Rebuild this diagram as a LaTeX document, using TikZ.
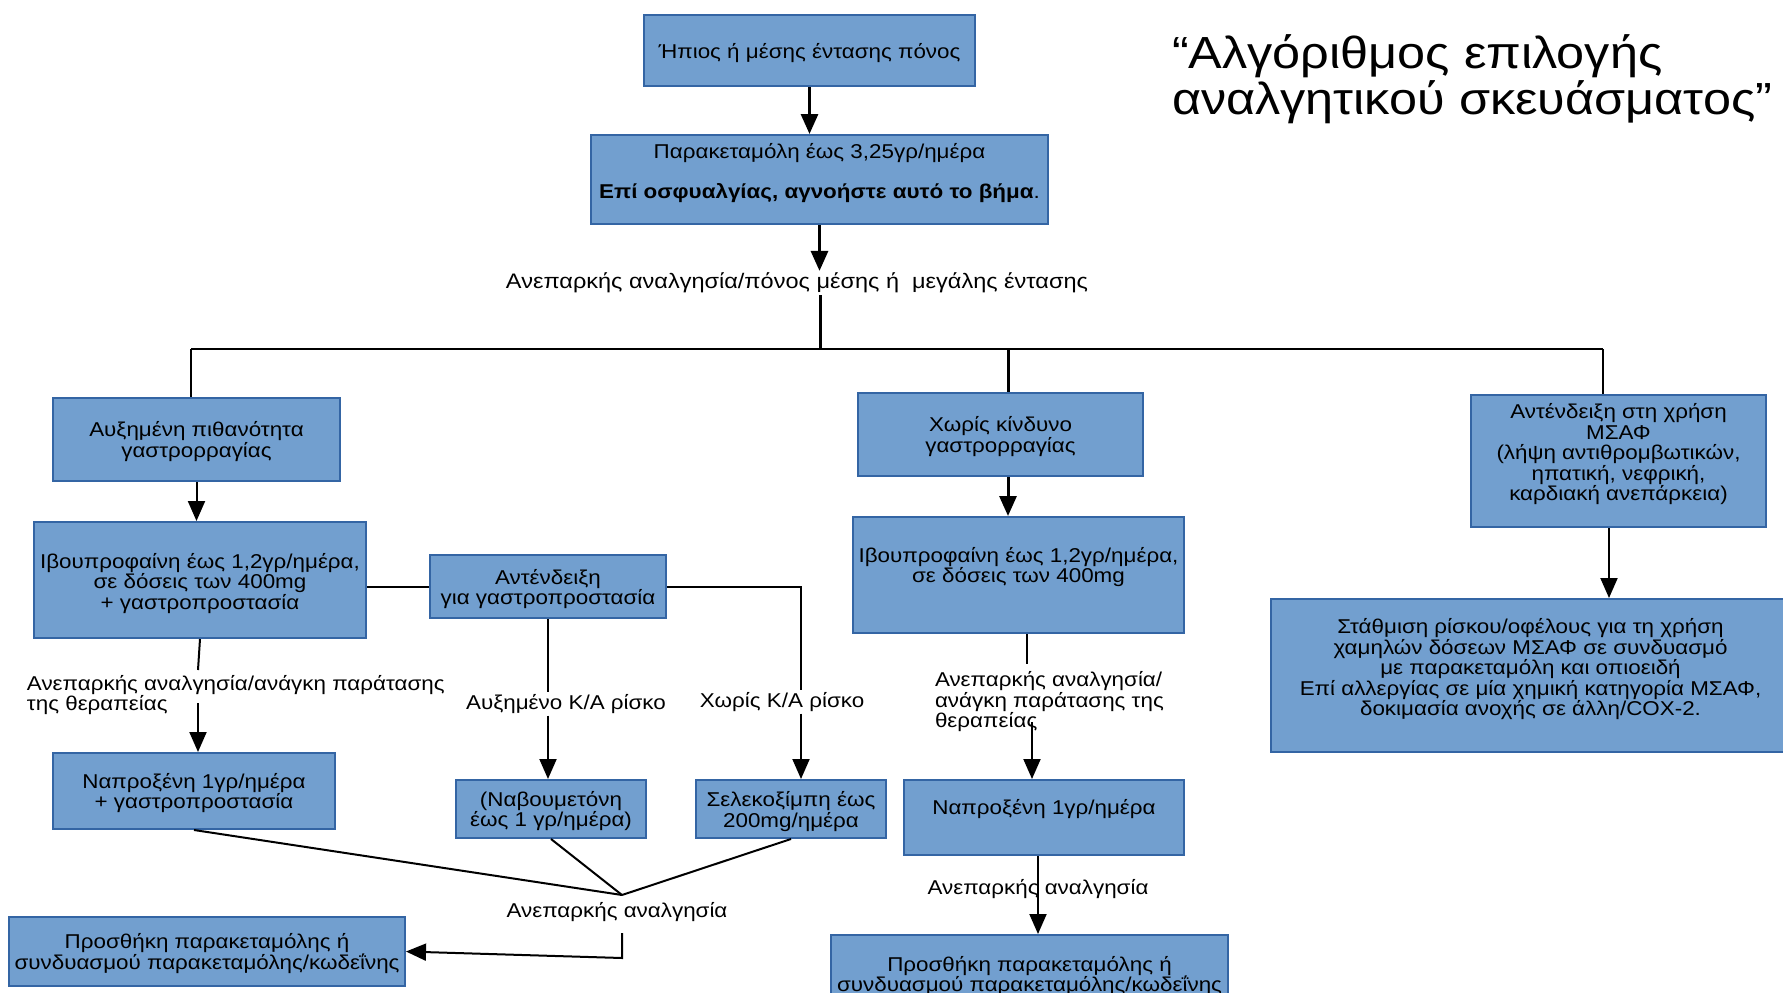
\documentclass[tikz,border=0pt]{standalone}
\usepackage{fontspec}
\setmainfont{Liberation Sans}[FakeStretch=1.12]
\usepackage{xcolor}
\usetikzlibrary{arrows.meta}
\definecolor{boxfill}{HTML}{729FCF}
\definecolor{boxline}{HTML}{3465A4}

\begin{document}
\begin{tikzpicture}[x=1pt, y=-1pt, line width=2pt,
    box/.style={draw=boxline, line width=2pt, fill=boxfill, align=center, inner sep=0pt,
      font=\fontsize{20}{20.5}\selectfont, execute at begin node={\rule{0pt}{18pt}}},
    lbl/.style={align=center, inner sep=1pt, font=\fontsize{20}{20.5}\selectfont},
    arr/.style={-{Triangle[length=20pt,width=17pt]}},
    bold/.style={line width=3pt}]
    \useasboundingbox (0,0) rectangle (1783,993);
    \clip (0,0) rectangle (1783,993);

    \coordinate (hub) at (820, 349);
    \coordinate (hubL) at (191, 349);
    \coordinate (hubM) at (1008, 349);
    \coordinate (hubR) at (1603, 349);
    \coordinate (ebend) at (801, 586.5);
    \coordinate (dstop) at (198, 670);
    \coordinate (dgo) at (198, 703);
    \coordinate (join) at (622, 895);
    \coordinate (jdown) at (622, 933);
    \coordinate (jbend) at (622, 958);
    \coordinate (kstop) at (1027, 664);
    \coordinate (kgo) at (1032, 722);
    \coordinate (lx) at (1038, 855);
    \coordinate (nx) at (1609, 528);

    \node[box, minimum width=331pt, minimum height=71pt] (mild) at (809.5, 50.5) {\rule{0pt}{20pt}Ήπιος ή μέσης έντασης πόνος};
    \node[box, minimum width=457pt, minimum height=89pt] (para) at (819.5, 179.5)
      {Παρακεταμόλη έως 3,25γρ/ημέρα\\[20pt]\textbf{Επί οσφυαλγίας, αγνοήστε αυτό το βήμα}.\\[-3pt]\mbox{}};
    \node[lbl, font=\fontsize{21}{21}\selectfont] (insuf) at (797, 283) {Ανεπαρκής αναλγησία/πόνος μέσης ή\ \ μεγάλης έντασης};

    \node[box, minimum width=287pt, minimum height=83pt] (highrisk) at (196.5, 439.5) {\rule{0pt}{19pt}Αυξημένη πιθανότητα\\γαστρορραγίας};
    \node[box, minimum width=332pt, minimum height=116pt] (ibuA) at (200, 580)
      {\rule{0pt}{22pt}Ιβουπροφαίνη έως 1,2γρ/ημέρα,\\σε δόσεις των 400mg\\+ γαστροπροστασία};
    \node[box, minimum width=236pt, minimum height=63pt] (contra) at (548, 586.5) {\rule{0pt}{20pt}Αντένδειξη\\για γαστροπροστασία};
    \node[lbl, anchor=west, align=left] (insufA) at (25, 695) {Ανεπαρκής αναλγησία/ανάγκη παράτασης\\της θεραπείας};
    \node[lbl] (incKA) at (566, 704) {Αυξημένο Κ/Α ρίσκο};
    \node[lbl] (noKA) at (782, 702) {Χωρίς Κ/Α ρίσκο};
    \node[box, minimum width=282pt, minimum height=76pt] (naproxA) at (194, 791) {\rule{0pt}{19pt}Ναπροξένη 1γρ/ημέρα\\+ γαστροπροστασία};
    \node[box, minimum width=190pt, minimum height=58pt] (nabu) at (551, 809) {\rule{0pt}{19pt}(Ναβουμετόνη\\έως 1 γρ/ημέρα)};
    \node[box, minimum width=190pt, minimum height=58pt] (celec) at (791, 809) {\rule{0pt}{20pt}Σελεκοξίμπη έως\\200mg/ημέρα};
    \node[lbl] (insufB) at (617, 912) {Ανεπαρκής αναλγησία};
    \node[box, minimum width=396pt, minimum height=69pt] (addA) at (207, 951.5)
      {\rule{0pt}{19pt}Προσθήκη παρακεταμόλης ή\\συνδυασμού παρακεταμόλης/κωδεΐνης};

    \node[box, minimum width=285pt, minimum height=83pt] (norisk) at (1000.5, 434.5) {\rule{0pt}{19pt}Χωρίς κίνδυνο\\γαστρορραγίας};
    \node[box, minimum width=331pt, minimum height=116pt] (ibuB) at (1018.5, 575)
      {Ιβουπροφαίνη έως 1,2γρ/ημέρα,\\σε δόσεις των 400mg\\\mbox{}};
    \node[lbl, anchor=west, align=left] (insufC) at (933, 702) {Ανεπαρκής αναλγησία/\\ανάγκη παράτασης της\\θεραπείας};
    \node[box, minimum width=280pt, minimum height=75pt] (naproxB) at (1044, 817.5) {Ναπροξένη 1γρ/ημέρα\\\mbox{}};
    \node[box, minimum width=397pt, minimum height=75pt] (addB) at (1029.5, 972.5)
      {\rule{0pt}{22pt}Προσθήκη παρακεταμόλης ή\\συνδυασμού παρακεταμόλης/κωδεΐνης};

    \node[box, minimum width=295pt, minimum height=132pt] (nsaid) at (1618.5, 461)
      {Αντένδειξη στη χρήση\\ΜΣΑΦ\\(λήψη αντιθρομβωτικών,\\ηπατική, νεφρική,\\καρδιακή ανεπάρκεια)\\[-3pt]\mbox{}};
    \node[box, minimum width=519pt, minimum height=153pt] (weigh) at (1530.5, 675.5)
      {Στάθμιση ρίσκου/οφέλους για τη χρήση\\χαμηλών δόσεων ΜΣΑΦ σε συνδυασμό\\με παρακεταμόλη και οπιοειδή\\Επί αλλεργίας σε μία χημική κατηγορία ΜΣΑΦ,\\δοκιμασία ανοχής σε άλλη/COX-2.\\[-3.5pt]\mbox{}};

    \node[anchor=west, align=left, inner sep=0pt, font=\fontsize{45}{45.5}\selectfont] (title) at (1171, 79)
      {“Αλγόριθμος επιλογής\\αναλγητικού σκευάσματος”};

    \draw[arr, bold] (mild.south) -- (mild.south |- para.north);
    \draw[arr, bold] (para.south) -- (para.south |- insuf.north);
    \draw[bold] (insuf.south -| hub) -- (hub);
    \draw (hubL) -- (hubR);

    \draw (hubL) -- (hubL |- highrisk.north);
    \draw[arr] (highrisk.south) -- (highrisk.south |- ibuA.north);
    \draw (ibuA.east |- contra.west) -- (contra.west);
    \draw (contra.east) -- (ebend) -- (ebend |- noKA.north);
    \draw[arr] (noKA.south -| ebend) -- (ebend |- celec.north);
    \draw (contra.south) -- (contra.south |- incKA.north);
    \draw[arr] (incKA.south -| contra.south) -- (contra.south |- nabu.north);
    \draw (ibuA.south) -- (dstop);
    \draw[arr] (dgo) -- (dgo |- naproxA.north);
    \draw (naproxA.south) -- (join);
    \draw (nabu.south) -- (join);
    \draw (celec.south) -- (join);
    \draw[arr] (jdown) -- (jbend) -- (addA.east);

    \draw[bold] (hubM) -- (hubM |- norisk.north);
    \draw[arr, bold] (norisk.south -| hubM) -- (hubM |- ibuB.north);
    \draw (ibuB.south -| kstop) -- (kstop);
    \draw[arr] (kgo) -- (kgo |- naproxB.north);
    \draw[arr] (naproxB.south -| lx) -- (lx |- addB.north);
    \node[lbl] (insufD) at (1038, 889) {Ανεπαρκής αναλγησία};

    \draw (hubR) -- (hubR |- nsaid.north);
    \draw[arr] (nsaid.south -| nx) -- (nx |- weigh.north);
\end{tikzpicture}
\end{document}
